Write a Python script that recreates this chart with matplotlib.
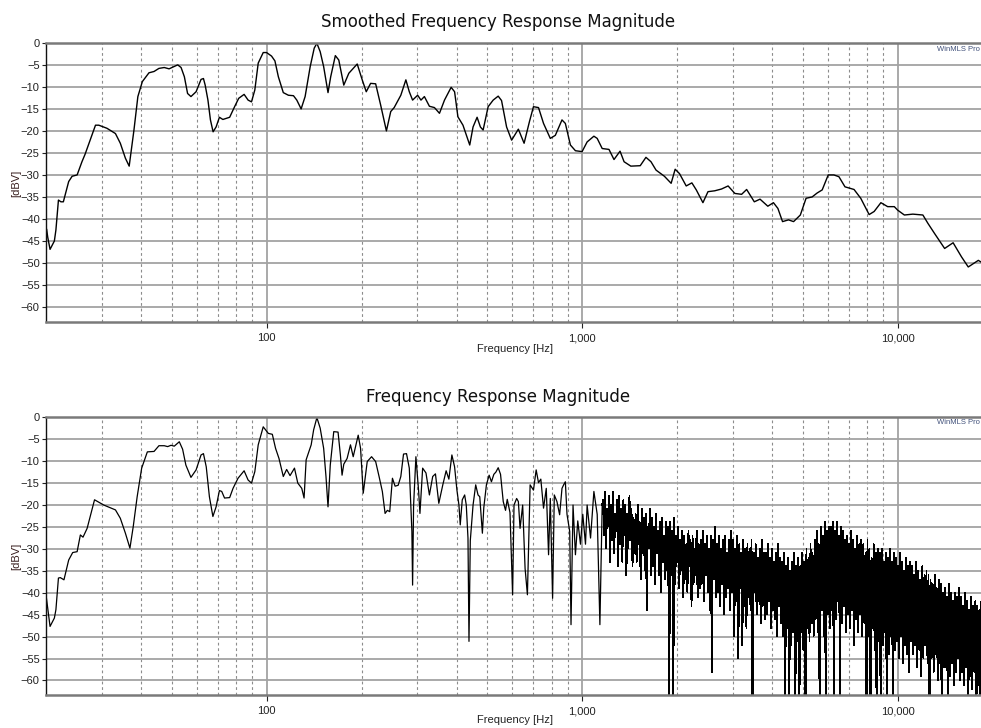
import matplotlib

matplotlib.use("Agg")
import matplotlib.pyplot as plt
import numpy as np
from matplotlib.ticker import FixedLocator, FuncFormatter, NullFormatter

# Smoothed response
SMOOTH_HZ = [
    20.1, 20.25, 20.6, 21.26, 21.5, 21.9, 22.3, 22.7, 23.6, 24.2, 25.1, 26.0,
    26.6, 27.6, 28.7, 29.4, 31.2, 33.2, 34.4, 35.7, 36.7, 38.0, 39.1, 40.4,
    42.4, 44.0, 45.6, 47.4, 49.1, 50.8, 52.3, 53.6, 54.9, 56.2, 57.6, 59.8,
    62.0, 63.1, 63.9, 65.2, 66.4, 67.7, 69.2, 70.9, 72.7, 76.4, 79.2, 81.6,
    84.9, 87.4, 89.6, 91.8, 94.1, 97.6, 100.0, 103.7, 106.3, 109.0, 113.0,
    117.3, 121.7, 124.7, 128.7, 132.5, 137.5, 141.6, 144.4, 147.9, 151.7,
    156.6, 159.7, 165.2, 169.4, 175.7, 182.3, 193.8, 201.0, 207.0, 213.7,
    221.7, 229.9, 239.8, 247.5, 253.8, 266.4, 276.4, 283.4, 290.3, 301.2,
    308.6, 316.4, 328.2, 340.5, 353.2, 366.4, 384.6, 394.4, 404.1, 419.3,
    440.5, 451.3, 464.8, 476.1, 485.7, 503.8, 522.7, 542.2, 555.6, 576.4,
    598.0, 628.1, 655.0, 681.0, 701.3, 727.6, 754.8, 793.0, 822.7, 863.6,
    885.1, 918.3, 952.6, 1000, 1037.5, 1090, 1116.6, 1158.1, 1216.8, 1262.3,
    1319.2, 1358.6, 1427.2, 1528.6, 1593.7, 1653.4, 1715.5, 1823.4, 1915.4,
    1972.3, 2035.9, 2138.0, 2228.2, 2301.3, 2415.4, 2506.1, 2632.6, 2765.1,
    2902.6, 3049.2, 3203.4, 3323, 3514, 3664, 3878, 4041, 4174, 4318, 4511,
    4680, 4917, 5127, 5358, 5559, 5767, 6027, 6281, 6516, 6811, 7276, 7641,
    8123, 8426, 8851, 9299, 9761, 10007, 10505, 11175, 12025, 12476, 13095,
    14093, 14993, 15938, 16744, 18020, 18694, 19157, 20000,
]
SMOOTH_DB = [
    -42.3, -44.0, -46.8, -44.9, -42.4, -35.6, -36.0, -36.0, -31.4, -30.2,
    -29.9, -26.9, -25.2, -22.0, -18.6, -18.6, -19.3, -20.5, -22.7, -26.1,
    -27.9, -19.7, -12.1, -8.7, -6.7, -6.4, -5.7, -5.5, -5.8, -5.3, -4.9,
    -5.5, -7.6, -11.4, -12.1, -11.0, -8.2, -8.0, -9.5, -12.9, -17.4, -20.1,
    -19.0, -16.8, -17.3, -16.8, -14.4, -12.5, -11.6, -12.9, -13.3, -10.6,
    -4.5, -2.1, -2.1, -2.9, -4.0, -7.6, -11.2, -11.8, -11.9, -12.9, -14.9,
    -12.1, -5.3, -1.1, 0.0, -1.9, -5.3, -11.2, -7.6, -2.8, -3.8, -9.5, -6.8,
    -4.7, -8.3, -11.0, -9.1, -9.2, -14.0, -19.9, -15.5, -14.6, -11.8, -8.3,
    -11.0, -12.9, -11.8, -12.9, -12.1, -14.3, -14.6, -15.9, -12.9, -10.0,
    -11.0, -16.7, -18.6, -23.1, -19.0, -16.8, -19.0, -19.7, -14.4, -12.9,
    -12.0, -13.0, -19.0, -22.0, -19.5, -22.7, -17.8, -14.4, -14.6, -18.2,
    -21.6, -20.9, -17.4, -18.2, -23.1, -24.4, -24.6, -22.4, -21.1, -21.6,
    -23.9, -24.1, -26.4, -24.5, -26.9, -27.9, -27.8, -25.9, -26.9, -28.8,
    -30.2, -31.8, -28.6, -29.6, -32.4, -31.7, -33.3, -36.2, -33.7, -33.5,
    -33.1, -32.4, -34.1, -34.3, -33.2, -36.0, -35.4, -37.0, -36.2, -37.5,
    -40.5, -40.1, -40.5, -39.0, -35.2, -34.9, -34.0, -33.3, -29.9, -29.9,
    -30.3, -32.6, -33.2, -35.2, -38.9, -38.2, -36.2, -37.1, -37.1, -37.9,
    -39.0, -38.8, -39.0, -40.9, -43.2, -46.6, -45.3, -48.5, -50.8, -49.3,
    -50.0, -51.1, -51.5,
]

# Raw response, low-frequency part (read point by point)
RAW_LF_HZ = [
    20.0, 20.25, 20.6, 21.26, 21.5, 21.9, 22.2, 22.8, 23.6, 24.3, 25.1, 25.7,
    26.2, 27.0, 28.5, 30.5, 33.2, 34.4, 35.7, 36.9, 37.8, 38.9, 40.2, 41.9,
    44.0, 45.6, 47.4, 48.6, 49.8, 51.0, 52.9, 54.2, 55.5, 57.6, 59.8, 62.0,
    63.1, 64.4, 65.9, 67.6, 69.2, 70.9, 72.1, 73.6, 76.4, 78.3, 81.2, 84.9,
    87.4, 89.6, 91.8, 94.1, 97.6, 101.3, 104.3, 106.8, 109.5, 113.0, 115.8,
    118.7, 122.6, 125.6, 129.3, 131.5, 133.5, 138.5, 141.0, 144.4, 147.9,
    151.7, 154.3, 156.6, 159.2, 163.3, 168.5, 171.4, 173.5, 175.7, 180.0,
    184.5, 188.2, 195.2, 198.6, 202.5, 208.5, 215.2, 221.7, 227.3, 232.8,
    237.5, 241.5, 245.7, 250.6, 255.5, 261.3, 266.4, 271.7, 277.7, 283.4,
    288.8, 290.3, 292.4, 297.4, 303.4, 306.3, 312.4, 320.1, 328.2, 336.2,
    343.0, 351.5, 361.9, 370.8, 378.3, 386.7, 394.4, 401.2, 407.1, 411.0,
    417.1, 424.5, 429.5, 434.9, 438.1, 442.3, 451.3, 460.1, 468.0, 473.9,
    483.1, 488.1, 497.5, 507.5, 516.1, 525.3, 533.1, 542.2, 551.5, 562.5,
    572.0, 579.2, 590.9, 602.3, 608.5, 620.3, 628.1, 636.0, 648.2, 659.7,
    671.0, 684.4, 701.3, 715.3, 727.6, 740.0, 754.8, 770.0, 783.0, 793.0,
    806.4, 816.5, 832.3, 848.9, 863.6, 874.1, 885.1, 895.8, 913.7, 922.4,
    936.1, 952.6, 969.0, 988.3, 1005.1, 1025.2, 1037.5, 1063.7, 1090,
    1116.6, 1138.8, 1158.1,
]
RAW_LF_DB = [
    -40.5, -43.6, -47.7, -45.8, -43.9, -36.7, -36.6, -37.1, -32.6, -30.9,
    -30.7, -26.9, -27.4, -25.4, -18.9, -20.1, -21.2, -23.1, -26.5, -29.9,
    -25.0, -18.2, -11.7, -8.0, -7.9, -6.6, -6.6, -6.8, -6.5, -6.7, -5.7,
    -7.4, -11.0, -13.8, -12.1, -8.7, -8.4, -11.4, -18.2, -22.7, -20.5, -16.8,
    -17.0, -18.5, -18.4, -16.3, -14.0, -12.3, -14.4, -15.1, -12.5, -6.4,
    -2.3, -3.8, -4.0, -7.2, -9.5, -13.6, -12.0, -13.4, -11.7, -15.1, -16.3,
    -18.5, -9.8, -6.4, -3.0, -0.2, -2.6, -7.2, -13.6, -20.5, -11.0, -3.4,
    -3.5, -8.7, -13.3, -10.8, -9.5, -6.4, -9.1, -4.2, -7.2, -17.4, -10.2,
    -9.1, -10.2, -13.6, -17.0, -22.0, -21.3, -21.6, -14.0, -15.8, -15.6,
    -13.6, -8.5, -8.4, -11.7, -26.1, -38.3, -20.3, -9.1, -17.0, -22.0, -11.7,
    -12.8, -17.8, -13.6, -13.0, -19.7, -15.5, -12.3, -14.2, -8.7, -11.4,
    -16.7, -20.1, -24.6, -18.9, -17.8, -20.1, -27.6, -51.1, -28.2, -20.1,
    -15.5, -17.8, -18.2, -26.5, -20.7, -15.5, -13.3, -14.8, -13.1, -12.6,
    -11.6, -13.1, -19.3, -21.3, -18.8, -21.8, -40.5, -20.1, -18.6, -19.3,
    -25.4, -20.1, -34.5, -40.5, -15.5, -16.7, -12.1, -15.0, -14.2, -20.8,
    -16.3, -31.4, -18.6, -41.3, -17.8, -19.3, -22.3, -16.3, -15.5, -14.8,
    -22.2, -26.1, -47.3, -20.1, -31.4, -23.7, -29.0, -22.2, -29.0, -20.1,
    -27.6, -17.0, -22.2, -47.3, -20.1,
]

# Raw response, dense high-frequency part: one reading per screen pixel,
# sampled on a log-spaced bin grid from RAW_HF_START_HZ to RAW_HF_END_HZ
RAW_HF_START_HZ = 1165
RAW_HF_END_HZ = 20000
RAW_HF_DB = [
    -19, -27, -17, -30, -21, -25, -18, -33, -20, -28, -17, -31, -22, -26, -19, -34,
    -18, -29, -21, -33, -19, -27, -20, -36, -22, -30, -18, -28, -21, -34, -23, -31,
    -22, -33, -20, -29, -24, -37, -21, -31, -23, -35, -22, -44, -25, -30, -21, -36,
    -23, -34, -25, -38, -22, -31, -26, -36, -24, -40, -23, -33, -27, -37, -24, -35,
    -25, -70, -24, -36, -26, -70, -23, -38, -27, -33, -25, -39, -28, -35, -26, -41,
    -27, -37, -29, -40, -26, -34, -28, -43, -27, -38, -30, -36, -26, -41, -29, -39,
    -28, -38, -26, -42, -29, -36, -27, -40, -30, -44, -27, -58, -28, -37, -25, -41,
    -29, -40, -27, -43, -30, -38, -28, -45, -27, -41, -31, -39, -28, -44, -26, -40,
    -28, -50, -30, -42, -27, -55, -29, -39, -31, -52, -28, -43, -30, -48, -29, -41,
    -30, -44, -28, -70, -31, -40, -29, -45, -32, -42, -30, -47, -28, -43, -31, -46,
    -31, -45, -29, -42, -32, -48, -30, -44, -33, -46, -31, -50, -29, -43, -32, -47,
    -33, -50, -31, -70, -34, -48, -32, -70, -35, -52, -33, -49, -31, -70, -34, -51,
    -32, -70, -34, -49, -31, -53, -33, -70, -30, -48, -32, -51, -29, -47, -31, -50,
    -28, -46, -26, -49, -29, -70, -25, -44, -27, -50, -24, -70, -26, -45, -25, -48,
    -25, -44, -24, -70, -26, -46, -24, -42, -27, -70, -25, -47, -26, -43, -28, -49,
    -27, -45, -29, -48, -26, -44, -28, -52, -30, -46, -27, -49, -29, -45, -28, -50,
    -29, -47, -31, -70, -28, -50, -30, -70, -32, -48, -29, -53, -31, -70, -30, -51,
    -31, -70, -30, -52, -33, -49, -31, -70, -32, -54, -30, -50, -33, -70, -31, -53,
    -32, -51, -34, -55, -31, -50, -33, -56, -35, -52, -32, -54, -34, -58, -33, -51,
    -34, -54, -36, -52, -33, -57, -35, -53, -37, -59, -34, -55, -36, -52, -35, -56,
    -36, -70, -37, -55, -38, -58, -36, -54, -39, -60, -37, -56, -38, -70, -40, -57,
    -39, -57, -41, -70, -38, -59, -40, -56, -42, -61, -40, -58, -41, -55, -39, -60,
    -41, -58, -43, -61, -40, -57, -42, -70, -44, -59, -41, -62, -43, -58, -42, -70,
    -43, -61, -44, -70, -42, -59, -45, -63, -43, -70, -44, -60, -42, -70, -45, -62,
]

MAJOR_HZ = [100, 1000, 10000]
MINOR_HZ = [30, 40, 50, 60, 70, 80, 90,
            200, 300, 400, 500, 600, 700, 800, 900,
            2000, 3000, 4000, 5000, 6000, 7000, 8000, 9000]
Y_TICKS = list(range(-60, 1, 5))

W, H = 981, 728
GRID = "#a3a3a3"
TICK_FONT = "Liberation Sans"


def px_box(left, top, right, bottom):
    return [left / W, 1 - bottom / H, (right - left) / W, (bottom - top) / H]


def style_axes(ax):
    ax.set_xscale("log")
    ax.set_xlim(20, 20000)
    ax.set_ylim(-63.3, 0)

    ax.xaxis.set_major_locator(FixedLocator(MAJOR_HZ))
    ax.xaxis.set_minor_locator(FixedLocator(MINOR_HZ))
    ax.xaxis.set_major_formatter(FuncFormatter(lambda v, _: f"{v:,.0f}"))
    ax.xaxis.set_minor_formatter(NullFormatter())
    ax.set_yticks(Y_TICKS)

    ax.grid(True, which="major", axis="y", color=GRID, lw=1.3, ls="-")
    ax.grid(True, which="major", axis="x", color=GRID, lw=1.3, ls="-")
    ax.grid(True, which="minor", axis="x", color="#8c8c8c", lw=0.8,
            ls=(0, (2.5, 2.5)))
    ax.set_axisbelow(True)

    ax.tick_params(axis="y", which="major", length=3, width=0.8, pad=1.5,
                   labelsize=8, colors="#222222")
    ax.tick_params(axis="x", which="major", length=4, width=0.8, pad=4,
                   labelsize=8, colors="#222222")
    ax.tick_params(axis="x", which="minor", length=0)
    for lbl in ax.get_xticklabels() + ax.get_yticklabels():
        lbl.set_fontfamily(TICK_FONT)

    ax.spines["left"].set_color("#111111")
    ax.spines["left"].set_linewidth(1.0)
    for side in ("top", "bottom"):
        ax.spines[side].set_color("#7a7a7a")
        ax.spines[side].set_linewidth(1.8)
    ax.spines["right"].set_visible(False)


fig = plt.figure(figsize=(W / 100, H / 100), dpi=100)
fig.patch.set_facecolor("white")

ax_top = fig.add_axes(px_box(46, 43.3, 992.6, 322))
ax_bot = fig.add_axes(px_box(46, 416.7, 992.6, 695))

ax_top.plot(SMOOTH_HZ, SMOOTH_DB, color="black", lw=1.0)

# low part drawn thin and smooth, dense part crisp so the band fills solid
ax_bot.plot(RAW_LF_HZ, RAW_LF_DB, color="black", lw=0.9)
raw_hf_hz = np.geomspace(RAW_HF_START_HZ, RAW_HF_END_HZ, len(RAW_HF_DB))
hf_hz = np.concatenate([RAW_LF_HZ[-1:], raw_hf_hz])
hf_db = np.concatenate([RAW_LF_DB[-1:], RAW_HF_DB])
ax_bot.plot(hf_hz, hf_db, color="black", lw=0.6, antialiased=False)

for ax in (ax_top, ax_bot):
    style_axes(ax)

titles = [("Smoothed Frequency Response Magnitude", 22, 349, 183, 46),
          ("Frequency Response Magnitude", 397, 720, 556, 419)]
for text, title_y, xlabel_y, ylabel_y, brand_y in titles:
    fig.text(498 / W, 1 - title_y / H, text, ha="center", va="center",
             fontsize=12, color="#111111")
    fig.text(515 / W, 1 - xlabel_y / H, "Frequency [Hz]", ha="center",
             va="center", fontsize=8, family=TICK_FONT, color="#222222")
    fig.text(16 / W, 1 - ylabel_y / H, "[dBV]", ha="center", va="center",
             rotation=90, fontsize=8, family=TICK_FONT, color="#3a2020")
    fig.text(937 / W, 1 - brand_y / H, "WinMLS Pro", ha="left", va="top",
             fontsize=5.5, family=TICK_FONT, color="#40507a")

fig.savefig("out.png", dpi=100, facecolor="white")
